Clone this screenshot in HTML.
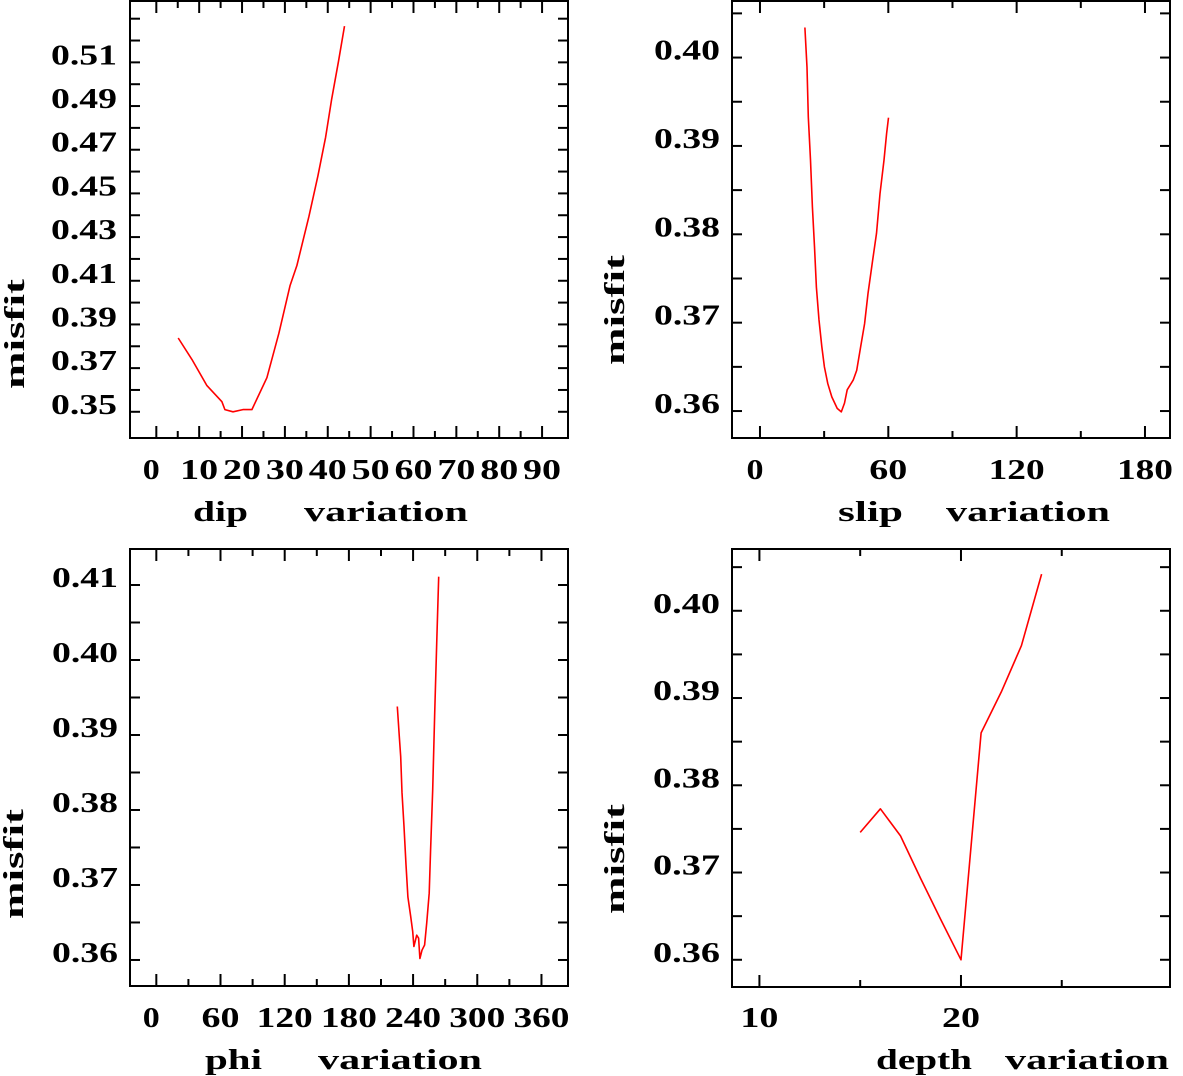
<!DOCTYPE html>
<html><head><meta charset="utf-8">
<style>
html,body{margin:0;padding:0;background:#fff;}
svg{display:block;}
text{font-family:"Liberation Serif",serif;fill:#000;}
</style></head>
<body>
<svg id="chart" width="1183" height="1076" viewBox="0 0 1183 1076" xmlns="http://www.w3.org/2000/svg"></svg>
<script>
// ---- data: dip panel ----
const dipX = [5.1, 8.3, 11.8, 15.3, 16, 17.9, 20.2, 22.3, 25.8, 28.6, 31.2, 32.8, 35.6, 37.7, 39.5, 40.9, 42.5, 43.9];
const dipY = [0.3838, 0.374, 0.362, 0.3546, 0.351, 0.350, 0.351, 0.351, 0.3656, 0.386, 0.4077, 0.417, 0.4394, 0.458, 0.4757, 0.493, 0.5105, 0.5266];
const dipYTicks = ["0.35","0.37","0.39","0.41","0.43","0.45","0.47","0.49","0.51"];
const dipXTicks = ["0","10","20","30","40","50","60","70","80","90"];
// ---- data: slip panel ----
const slipX = [21, 22, 22.6, 23.6, 24.5, 25.5, 26.4, 27.6, 28.9, 30.1, 31.7, 33.6, 36.1, 38, 39.5, 40.8, 43.6, 45.2, 47.1, 48.9, 50.5, 52.7, 54.5, 56.1, 58, 59.2, 60.1];
const slipY = [0.4034, 0.3989, 0.3933, 0.3884, 0.3831, 0.3786, 0.374, 0.3703, 0.3673, 0.365, 0.3631, 0.3616, 0.3603, 0.3599, 0.3609, 0.3624, 0.3635, 0.3646, 0.3673, 0.3699, 0.3733, 0.3771, 0.3801, 0.3846, 0.3884, 0.3914, 0.3932];
const slipYTicks = ["0.36","0.37","0.38","0.39","0.40"];
const slipXTicks = ["0","60","120","180"];
// ---- data: phi panel ----
const phiX = [225.2, 227.1, 228.4, 229.6, 231.5, 233.4, 235.2, 237.8, 239.6, 240.8, 243.4, 245.2, 246.4, 248.3, 250.8, 252.7, 255.1, 256.4, 258.3, 260.2, 262.1, 263.9];
const phiY = [0.3938, 0.3898, 0.3871, 0.3823, 0.3778, 0.3727, 0.3684, 0.3658, 0.3638, 0.3618, 0.3633, 0.3629, 0.3602, 0.3613, 0.362, 0.3649, 0.3689, 0.3747, 0.3827, 0.3929, 0.4022, 0.4111];
const phiYTicks = ["0.36","0.37","0.38","0.39","0.40","0.41"];
const phiXTicks = ["0","60","120","180","240","300","360"];
// ---- data: depth panel ----
const depthX = [15, 16, 17, 18, 19, 20, 21, 22, 23, 24];
const depthY = [0.3746, 0.3773, 0.3742, 0.3693, 0.3646, 0.360, 0.386, 0.3907, 0.396, 0.4042];
const depthYTicks = ["0.36","0.37","0.38","0.39","0.40"];
const depthXTicks = ["10","20"];

const NS = "http://www.w3.org/2000/svg";
const svg = document.getElementById("chart");
function mk(tag, attrs, parent){
  const e = document.createElementNS(NS, tag);
  for (const k in attrs) e.setAttribute(k, attrs[k]);
  (parent||svg).appendChild(e);
  return e;
}

const panels = [
  {key:"dip", box:[130,1,568,438], xd:[-6.14,96.05], yd:[0.338,0.5381], xs:dipX, ys:dipY,
   yt:dipYTicks, ystep:0.01, xt:dipXTicks, xstep:5, xmajor:10,
   ylabX:[51,66], xlabY:479, name:"dip", titleY:521, nameX:[193,55], varX:[304,164], misfit:[14,334]},
  {key:"slip", box:[732,1,1170,438], xd:[-13.08,191.7], yd:[0.35695,0.4064], xs:slipX, ys:slipY,
   yt:slipYTicks, ystep:0.005, xt:slipXTicks, xstep:30, xmajor:60,
   ylabX:[654,66], xlabY:479, name:"slip", titleY:521, nameX:[838,65], varX:[946,164], misfit:[614,310]},
  {key:"phi", box:[130,549,568,986], xd:[-24.6,384.8], yd:[0.35653,0.4148], xs:phiX, ys:phiY,
   yt:phiYTicks, ystep:0.005, xt:phiXTicks, xstep:30, xmajor:60,
   ylabX:[52,66], xlabY:1027, name:"phi", titleY:1069, nameX:[205,57], varX:[318,164], misfit:[13,864]},
  {key:"depth", box:[732,549,1170,987], xd:[8.64,30.37], yd:[0.35688,0.40708], xs:depthX, ys:depthY,
   yt:depthYTicks, ystep:0.005, xt:depthXTicks, xstep:5, xmajor:10,
   ylabX:[653,67], xlabY:1027, name:"depth", titleY:1069, nameX:[876,96], varX:[1005,164], misfit:[614,859]}
];

panels.forEach(p=>{
  const [L,T,R,B] = p.box;
  const g = mk("g", {});
  
  
  const sx = v => L + (v - p.xd[0]) / (p.xd[1]-p.xd[0]) * (R-L);
  const sy = v => B - (v - p.yd[0]) / (p.yd[1]-p.yd[0]) * (B-T);

  const frame = mk("rect", {x:L, y:T, width:R-L, height:B-T, fill:"none", stroke:"#000", "stroke-width":2}, g);
  
  

  const y0 = Math.ceil(p.yd[0]/p.ystep - 1e-6);
  const y1 = Math.floor(p.yd[1]/p.ystep + 1e-6);
  for (let i=y0;i<=y1;i++){
    const y = sy(i*p.ystep);
    if (y < T+8 || y > B-8) continue;
    const t1 = mk("line",{x1:L,x2:L+10,y1:y,y2:y,stroke:"#000","stroke-width":2},g);
    
    
    const t2 = mk("line",{x1:R-10,x2:R,y1:y,y2:y,stroke:"#000","stroke-width":2},g);
    
    
  }
  const x0 = Math.ceil(p.xd[0]/p.xstep);
  const x1 = Math.floor(p.xd[1]/p.xstep);
  for (let i=x0;i<=x1;i++){
    const v = i*p.xstep;
    const x = sx(v);
    if (x < L+10 || x > R-10) continue;
    const len = (Math.abs(v % p.xmajor) < 1e-6) ? 12 : 7;
    const t1 = mk("line",{x1:x,x2:x,y1:B,y2:B-len,stroke:"#000","stroke-width":2},g);
    
    
    const t2 = mk("line",{x1:x,x2:x,y1:T,y2:T+len,stroke:"#000","stroke-width":2},g);
    
    
  }
  p.yt.forEach(s=>{
    const y = sy(parseFloat(s));
    const t = mk("text",{x:p.ylabX[0], y:y+2, "font-size":28, "font-weight":"bold", textLength:p.ylabX[1], lengthAdjust:"spacingAndGlyphs"},g);
    t.textContent = s;
    
    
  });
  p.xt.forEach(s=>{
    const v = parseFloat(s);
    const x = sx(v);
    const w = s.length===1 ? 17 : (s.length===2 ? 38 : 56);
    const off = s.length===1 ? -5 : 0;
    const t = mk("text",{x:x-w/2+off, y:p.xlabY, "font-size":28, "font-weight":"bold", textLength:w, lengthAdjust:"spacingAndGlyphs"},g);
    t.textContent = s;
    
    
  });
  const n = mk("text",{x:p.nameX[0], y:p.titleY, "font-size":28, "font-weight":"bold", textLength:p.nameX[1], lengthAdjust:"spacingAndGlyphs"},g);
  n.textContent = p.name;
  
  
  const vt = mk("text",{x:p.varX[0], y:p.titleY, "font-size":28, "font-weight":"bold", textLength:p.varX[1], lengthAdjust:"spacingAndGlyphs"},g);
  vt.textContent = "variation";
  
  
  const m = mk("text",{x:0, y:0, "font-size":28, "font-weight":"bold", "text-anchor":"middle", textLength:110, lengthAdjust:"spacingAndGlyphs",
     transform:`translate(${p.misfit[0]+10},${p.misfit[1]}) rotate(-90)`},g);
  m.textContent = "misfit";
  
  
  const pts = p.xs.map((v,i)=> sx(v).toFixed(1)+","+sy(p.ys[i]).toFixed(1)).join(" ");
  const line = mk("polyline",{points:pts, fill:"none", stroke:"#ff0000", "stroke-width":1.6, "stroke-linejoin":"round"},g);
  
  
});
</script>
</body></html>
